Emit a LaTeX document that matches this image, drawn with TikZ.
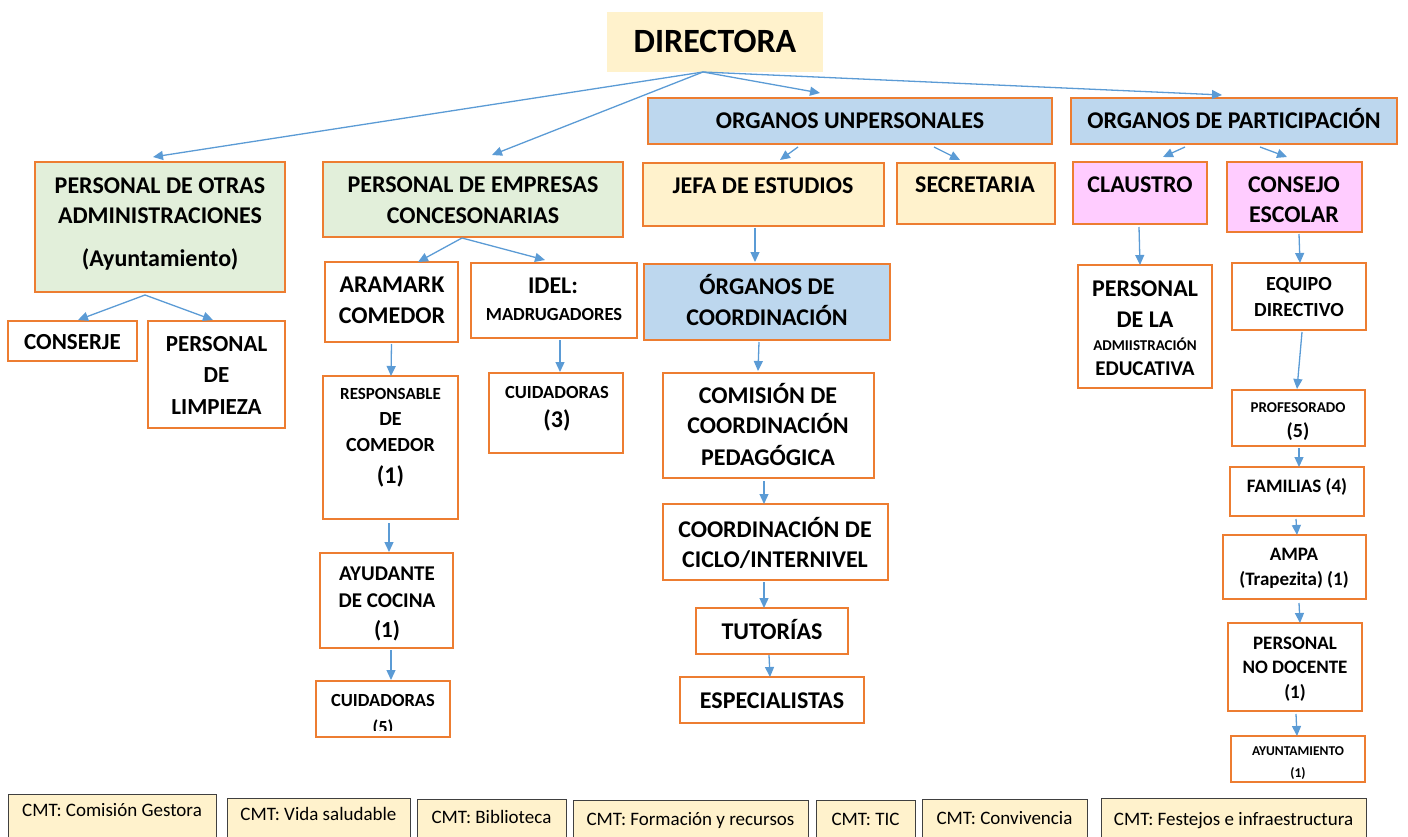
\documentclass[tikz,border=0pt]{standalone}
\usepackage{fontspec}
\setmainfont{Carlito}
\usetikzlibrary{arrows.meta}
\definecolor{obord}{HTML}{ED7D31}
\definecolor{arrc}{HTML}{5B9BD5}
\definecolor{fyel}{HTML}{FFF2CC}
\definecolor{fgrn}{HTML}{E2EFDA}
\definecolor{fblu}{HTML}{BDD7EE}
\definecolor{fpnk}{HTML}{FFCCFF}
\tikzset{
  bx/.style={draw=obord, line width=1.6pt, fill=white, inner sep=0pt, outer sep=0pt, anchor=north west},
  cmt/.style={draw=black!75, line width=1pt, fill=fyel, inner sep=0pt, outer sep=0pt, anchor=north west},
  arr/.style={draw=arrc, line width=1.3pt, -{Triangle[length=10pt,width=9pt]}},
}
\newcommand\mkbox[6][]{\pgfmathsetmacro\bw{#5-#3}\pgfmathsetmacro\bh{#6-#4}%
  \node[bx,#1,minimum width=\bw pt,minimum height=\bh pt] (#2) at (#3,-#4) {};}
\newcounter{tlc}
\newcommand\tline[5][\bfseries]{\stepcounter{tlc}\edef\tlname{txt\arabic{tlc}}%
  \pgfmathsetmacro\tly{-(#3+0.318*#4)}%
  \node[anchor=base,inner sep=0pt,font=\fontsize{#4}{#4}\selectfont#1] (\tlname) at (#2,\tly) {#5};}
\newcommand\arw[6]{\draw[arr] ([xshift=#2pt,yshift=#3pt]#1.south) -- ([xshift=#5pt,yshift=#6pt]#4.north);}
\begin{document}
\begin{tikzpicture}[x=1pt,y=1pt]
\useasboundingbox (0,0) rectangle (1408,-837);
\clip (0,0) rectangle (1408,-837);
% boxes
\mkbox[draw=none,fill=fyel]{dir}{607}{12}{823}{72}
\mkbox[fill=fblu]{ou}{648}{98}{1052}{144}
\mkbox[fill=fblu]{op}{1071}{98}{1397}{144}
\mkbox[fill=fgrn]{pdo}{35}{162}{285}{292}
\mkbox[fill=fgrn]{pde}{323}{162}{623}{237}
\mkbox{cons}{8}{321}{137}{361}
\mkbox{limp}{148}{321}{285}{428}
\mkbox{aram}{325}{262}{458}{342}
\mkbox{idel}{471}{263}{637}{338}
\mkbox{resp}{323}{376}{458}{519}
\mkbox{cuidt}{489}{373}{623}{453}
\mkbox{ayud}{320}{553}{453}{648}
\mkbox{cuidf}{316}{681}{450}{737}
\mkbox[fill=fyel]{jefa}{643}{163}{884}{226}
\mkbox[fill=fyel]{secr}{897}{163}{1055}{224}
\mkbox[fill=fblu]{oc}{644}{264}{890}{340}
\mkbox{comi}{663}{373}{874}{478}
\mkbox{ciclo}{663}{504}{888}{580}
\mkbox{tut}{696}{608}{848}{654}
\mkbox{esp}{680}{677}{864}{723}
\mkbox[fill=fpnk]{clau}{1073}{162}{1207}{224}
\mkbox[fill=fpnk]{conse}{1227}{162}{1362}{232}
\mkbox{pda}{1078}{265}{1212}{388}
\mkbox{equ}{1232}{263}{1366}{330}
\mkbox{prof}{1232}{390}{1365}{446}
\mkbox{fam}{1230}{467}{1364}{516}
\mkbox{ampa}{1223}{535}{1366}{599}
\mkbox{pnd}{1228}{623}{1362}{711}
\mkbox{ayun}{1231}{736}{1365}{782}
% legend boxes
\mkbox[cmt]{ca}{8}{794}{216}{850}
\mkbox[cmt]{cb}{227}{798}{410}{850}
\mkbox[cmt]{cc}{417}{799}{566}{850}
\mkbox[cmt]{cd}{573}{800}{808}{850}
\mkbox[cmt]{ce}{816}{800}{915}{850}
\mkbox[cmt]{cf}{922}{799}{1087}{850}
\mkbox[cmt]{cg}{1101}{798}{1366}{850}
% texts
\tline{715}{42}{34}{DIRECTORA}
\tline{850}{120.5}{24}{ORGANOS UNPERSONALES}
\tline{1234}{121}{24}{ORGANOS DE PARTICIPACIÓN}
\tline{160}{186}{24}{PERSONAL DE OTRAS}
\tline{160}{216}{24}{ADMINISTRACIONES}
\tline{160}{259}{24}{(Ayuntamiento)}
\tline{473}{185}{24}{PERSONAL DE EMPRESAS}
\tline{473}{216}{24}{CONCESONARIAS}
\tline{72.5}{342.5}{23}{CONSERJE}
\tline{216.5}{344.5}{23}{PERSONAL}
\tline{216.5}{375.5}{23}{DE}
\tline{216.5}{407.5}{23}{LIMPIEZA}
\tline{392}{285}{24}{ARAMARK}
\tline{392}{315.5}{24}{COMEDOR}
\tline{553}{285.5}{24}{IDEL:}
\tline{554}{314.5}{18.5}{MADRUGADORES}
\tline{557}{392.5}{18.5}{CUIDADORAS}
\tline{557}{420}{24}{(3)}
\tline{390.5}{394}{17}{RESPONSABLE}
\tline{390.5}{419}{20}{DE}
\tline{390.5}{445.5}{20}{COMEDOR}
\tline{390.5}{475.5}{24}{(1)}
\tline{387}{574}{21}{AYUDANTE}
\tline{387}{600.5}{21}{DE COCINA}
\tline{387}{630}{23}{(1)}
\tline{383}{701}{18.5}{CUIDADORAS}
\begin{scope}
\clip (316,-681) rectangle (450,-730);
\tline{383}{728}{18.5}{(5)}
\end{scope}
\tline{763}{185.5}{24}{JEFA DE ESTUDIOS}
\tline{975}{185}{24}{SECRETARIA}
\tline{767}{287}{24}{ÓRGANOS DE}
\tline{767}{317.5}{24}{COORDINACIÓN}
\tline{768}{395.5}{24}{COMISIÓN DE}
\tline{768}{425.5}{24}{COORDINACIÓN}
\tline{768}{458}{24}{PEDAGÓGICA}
\tline{775}{529.5}{24}{COORDINACIÓN DE}
\tline{775}{559.5}{24}{CICLO/INTERNIVEL}
\tline{772}{631.5}{24}{TUTORÍAS}
\tline{772}{700.5}{24}{ESPECIALISTAS}
\tline{1140}{184.5}{24}{CLAUSTRO}
\tline{1294}{184.5}{24}{CONSEJO}
\tline{1294}{215}{24}{ESCOLAR}
\tline{1145}{288.5}{24}{PERSONAL}
\tline{1145}{319.5}{24}{DE LA}
\tline{1145}{346}{15}{ADMIISTRACIÓN}
\tline{1145}{368.5}{21}{EDUCATIVA}
\tline{1299}{284}{20}{EQUIPO}
\tline{1299}{310.5}{20}{DIRECTIVO}
\tline{1298}{407.5}{15}{PROFESORADO}
\tline{1298}{431}{20}{(5)}
\tline{1297}{486}{19}{FAMILIAS (4)}
\tline{1294}{554}{19}{AMPA}
\tline{1294}{579.5}{19}{(Trapezita) (1)}
\tline{1295}{643}{19}{PERSONAL}
\tline{1295}{667}{19}{NO DOCENTE}
\tline{1295}{692}{19}{(1)}
\tline{1298}{751.5}{13.5}{AYUNTAMIENTO}
\tline{1298}{773}{13.5}{(1)}
% legend texts
\tline[\mdseries]{112}{810}{19}{CMT: Comisión Gestora}
\tline[\mdseries]{318.5}{814}{19}{CMT: Vida saludable}
\tline[\mdseries]{491.5}{817}{19}{CMT: Biblioteca}
\tline[\mdseries]{690.5}{819}{19}{CMT: Formación y recursos}
\tline[\mdseries]{865.5}{819}{19}{CMT: TIC}
\tline[\mdseries]{1004.5}{818}{19}{CMT: Convivencia}
\tline[\mdseries]{1233.5}{819}{19}{CMT: Festejos e infraestructura}
% arrows
\arw{dir}{-12}{0}{pdo}{-7}{5}
\arw{dir}{-12}{0}{pde}{19}{7}
\arw{dir}{-12}{0}{ou}{-30}{5}
\arw{dir}{-12}{0}{op}{-12}{3}
\arw{pdo}{-15}{-3}{cons}{5.5}{1}
\arw{pdo}{-15}{-3}{limp}{-3.5}{1}
\arw{pde}{-11}{-1}{aram}{26.5}{0}
\arw{pde}{-11}{-1}{idel}{-9}{3}
\arw{aram}{0}{-2}{resp}{0.5}{0}
\arw{idel}{6}{-2}{cuidt}{4}{1}
\arw{resp}{-1.5}{-4}{ayud}{2.5}{1}
\arw{ayud}{4.5}{-2}{cuidf}{8}{1}
\arw{ou}{-52}{-3}{jefa}{16.5}{3}
\arw{ou}{84}{-3}{secr}{-16}{3}
\arw{jefa}{-8.5}{-2}{oc}{-12}{2}
\arw{oc}{-8}{-2}{comi}{-10.5}{2}
\arw{comi}{-4.5}{-3}{ciclo}{-11.5}{0}
\arw{ciclo}{-11.5}{-2}{tut}{-8}{0}
\arw{tut}{-3}{-1}{esp}{-2}{0}
\arw{op}{-49}{-3}{clau}{23}{5}
\arw{op}{26}{-3}{conse}{-7.5}{5}
\arw{clau}{-1}{-3}{pda}{-5}{0}
\arw{conse}{4.5}{-2}{equ}{1}{0}
\arw{equ}{3}{-2}{prof}{-1.5}{1}
\arw{prof}{0.5}{-2}{fam}{2}{0}
\arw{fam}{-1}{-3}{ampa}{2.5}{0}
\arw{ampa}{4.5}{-4}{pnd}{5}{0}
\arw{pnd}{1}{-3}{ayun}{-1}{0}
\end{tikzpicture}
\end{document}
